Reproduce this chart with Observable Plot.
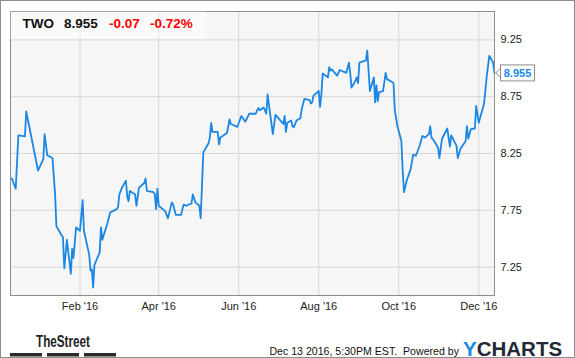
<!DOCTYPE html>
<html>
<head>
<meta charset="utf-8">
<script src="https://cdn.jsdelivr.net/npm/d3@7"></script>
<script src="https://cdn.jsdelivr.net/npm/@observablehq/plot@0.6"></script>
<style>
  html, body { margin: 0; padding: 0; background: #fff; }
  svg { display: block; }
</style>
</head>
<body>
<div id="chart"></div>
<script>
const dates = [
  "2015-12-11","2015-12-14","2015-12-16","2015-12-21","2015-12-22","2015-12-31",
  "2016-01-04","2016-01-05","2016-01-07","2016-01-11","2016-01-13","2016-01-14","2016-01-19","2016-01-20","2016-01-22","2016-01-25","2016-01-26","2016-01-27","2016-01-29",
  "2016-02-01","2016-02-03","2016-02-04","2016-02-08","2016-02-09","2016-02-10","2016-02-11","2016-02-12","2016-02-16","2016-02-17","2016-02-18","2016-02-22","2016-02-24","2016-02-29",
  "2016-03-01","2016-03-02","2016-03-04","2016-03-07","2016-03-08","2016-03-09","2016-03-10","2016-03-14","2016-03-15","2016-03-17","2016-03-21","2016-03-22","2016-03-23","2016-03-28","2016-03-29","2016-03-30","2016-03-31",
  "2016-04-01","2016-04-04","2016-04-06","2016-04-08","2016-04-11","2016-04-12","2016-04-14","2016-04-18","2016-04-20","2016-04-22","2016-04-26","2016-04-27","2016-04-29",
  "2016-05-02","2016-05-03","2016-05-05","2016-05-09","2016-05-10","2016-05-11","2016-05-12","2016-05-16","2016-05-17","2016-05-18","2016-05-23","2016-05-24","2016-05-25","2016-05-26","2016-05-31",
  "2016-06-03","2016-06-06","2016-06-09","2016-06-14","2016-06-15","2016-06-16","2016-06-17","2016-06-20","2016-06-22","2016-06-23","2016-06-27","2016-06-29",
  "2016-07-05","2016-07-06","2016-07-07","2016-07-08","2016-07-11","2016-07-12","2016-07-13","2016-07-15","2016-07-18","2016-07-19","2016-07-21","2016-07-25","2016-07-26","2016-07-27","2016-07-28",
  "2016-08-01","2016-08-02","2016-08-03","2016-08-04","2016-08-08","2016-08-09","2016-08-10","2016-08-11","2016-08-15","2016-08-17","2016-08-22","2016-08-24","2016-08-25","2016-08-26","2016-08-29","2016-08-30","2016-08-31",
  "2016-09-01","2016-09-06","2016-09-07","2016-09-09","2016-09-12","2016-09-13","2016-09-14","2016-09-15","2016-09-16","2016-09-19","2016-09-21","2016-09-22","2016-09-26","2016-09-27","2016-09-28","2016-09-30",
  "2016-10-03","2016-10-04","2016-10-05","2016-10-07","2016-10-10","2016-10-12","2016-10-13","2016-10-14","2016-10-17","2016-10-19","2016-10-21","2016-10-24","2016-10-25","2016-10-26","2016-10-28","2016-10-31",
  "2016-11-01","2016-11-03","2016-11-07","2016-11-09","2016-11-10","2016-11-14","2016-11-15","2016-11-17","2016-11-21","2016-11-22","2016-11-23","2016-11-25","2016-11-28","2016-11-29",
  "2016-12-01","2016-12-05","2016-12-07","2016-12-09","2016-12-12","2016-12-13"
];
const prices = [
  8.03,7.94,8.41,8.40,8.62,8.10,
  8.20,8.42,8.235,8.21,7.89,7.61,7.51,7.24,7.49,7.19,7.41,7.33,7.60,
  7.57,7.84,7.57,7.36,7.22,7.23,7.07,7.27,7.38,7.60,7.49,7.64,7.73,7.76,
  7.78,7.89,7.95,8.01,7.87,7.83,7.92,7.89,7.79,7.95,7.99,8.03,7.92,7.91,7.89,7.76,7.94,
  7.79,7.76,7.74,7.68,7.82,7.80,7.71,7.71,7.80,7.79,7.81,7.89,7.82,
  7.79,7.68,8.26,8.34,8.39,8.52,8.44,8.44,8.33,8.39,8.43,8.485,8.55,8.51,8.485,
  8.58,8.53,8.60,8.60,8.63,8.65,8.63,8.655,8.60,8.77,8.42,8.59,
  8.51,8.58,8.44,8.52,8.54,8.49,8.48,8.54,8.56,8.64,8.73,8.72,8.69,8.70,8.76,
  8.80,8.66,8.77,8.955,8.92,9.01,8.98,8.99,8.935,8.985,8.96,9.05,8.96,8.83,8.89,8.92,8.87,
  9.05,9.07,9.155,8.80,8.92,8.70,8.85,8.71,8.79,8.80,8.96,8.905,8.88,8.87,8.63,8.49,
  8.36,8.10,7.91,8.01,8.11,8.24,8.235,8.23,8.32,8.405,8.39,8.42,8.49,8.39,8.36,8.30,
  8.21,8.38,8.47,8.31,8.41,8.32,8.21,8.29,8.36,8.49,8.38,8.465,8.47,8.67,
  8.52,8.685,8.92,9.11,9.05,8.955
];
const yTicks = [7.25, 7.75, 8.25, 8.75, 9.25];
const xTickDates = ["2016-02-01","2016-04-01","2016-06-01","2016-08-01","2016-10-01","2016-12-01"];
const ticker = "TWO";
const lastPrice = "8.955";
const change = "-0.07";
const changePct = "-0.72%";
const stamp = "Dec 13 2016, 5:30PM EST.  Powered by";

const data = dates.map((d, i) => ({date: new Date(d), price: prices[i]}));
const xTicks = xTickDates.map(d => new Date(d));
const blue = "#1a87e5";
const font = "'Liberation Sans', Arial, sans-serif";

const chart = Plot.plot({
  width: 575,
  height: 358,
  marginLeft: 10,
  marginRight: 81,
  marginTop: 11,
  marginBottom: 63,
  style: {background: "#fff", fontFamily: font, fontSize: "11px", color: "#222"},
  x: {type: "utc", domain: [new Date("2015-12-10"), new Date("2016-12-13")]},
  y: {domain: [7.0, 9.5]},
  marks: [
    Plot.frame({fill: "#f6f6f6", stroke: "none"}),
    Plot.gridY(yTicks, {stroke: "#d7d7d7", strokeOpacity: 1}),
    Plot.gridX(xTicks, {stroke: "#d7d7d7", strokeOpacity: 1}),
    Plot.line(data, {x: "date", y: "price", stroke: blue, strokeWidth: 1.8}),
    Plot.frame({stroke: "#8c8c8c", strokeWidth: 1}),
    Plot.axisY(yTicks, {anchor: "right", tickSize: 0, tickPadding: 6, tickFormat: d => d.toFixed(2), label: null, fill: "#222"}),
    Plot.axisX(xTicks, {anchor: "bottom", tickSize: 0, tickPadding: 7, tickFormat: d3.utcFormat("%b '%y"), label: null, fill: "#222"})
  ]
});

document.getElementById("chart").appendChild(chart);

const svg = d3.select(chart);
const yS = chart.scale("y");
const ly = yS.apply(prices[prices.length - 1]);

// outer border
svg.append("rect").attr("x", 0.5).attr("y", 0.5).attr("width", 574).attr("height", 357)
  .attr("fill", "none").attr("stroke", "#8c8c8c");

// header box
svg.append("rect").attr("x", 10.5).attr("y", 11.5).attr("width", 195).attr("height", 27)
  .attr("fill", "#fff").attr("fill-opacity", 0.45);
const hdr = svg.append("g").attr("font-family", font).attr("font-weight", "bold")
  .attr("font-size", 13.5).attr("text-anchor", "start");
hdr.append("text").attr("x", 22.5).attr("y", 28.3).attr("fill", "#111").text(ticker);
hdr.append("text").attr("x", 64).attr("y", 28.3).attr("fill", "#111").text(lastPrice);
hdr.append("text").attr("x", 109).attr("y", 28.3).attr("fill", "#f00").text(change);
hdr.append("text").attr("x", 150).attr("y", 28.3).attr("fill", "#f00").text(changePct);

// last value flag
svg.append("path").attr("d", `M500,${ly - 4.5} L496,${ly} L500,${ly + 4.5}`)
  .attr("fill", "#fff").attr("stroke", "#8c8c8c");
svg.append("rect").attr("x", 500.5).attr("y", ly - 8).attr("width", 34).attr("height", 16)
  .attr("fill", "#fff").attr("stroke", "#8c8c8c");
svg.append("text").attr("x", 517.5).attr("y", ly + 4).attr("text-anchor", "middle")
  .attr("font-family", font).attr("font-weight", "bold").attr("font-size", 11)
  .attr("fill", blue).text(lastPrice);

// footer: TheStreet logo
svg.append("text").attr("x", 36).attr("y", 347).attr("text-anchor", "start")
  .attr("font-family", font).attr("font-weight", "bold")
  .attr("font-size", 17).attr("textLength", 54).attr("lengthAdjust", "spacingAndGlyphs")
  .attr("fill", "#222").text("TheStreet");
[[10, 42], [47, 79], [84, 116]].forEach(([a, b]) => {
  svg.append("rect").attr("x", a).attr("y", 353).attr("width", b - a).attr("height", 3.5).attr("fill", "#2a2a2a");
});

// stamp
svg.append("text").attr("x", 459).attr("y", 354.5).attr("text-anchor", "end")
  .attr("font-family", font).attr("font-size", 10.6).attr("fill", "#111")
  .style("white-space", "pre").text(stamp);

// YCHARTS logo
const yc = svg.append("text").attr("x", 463).attr("y", 355.5).attr("text-anchor", "start")
  .attr("font-family", font).attr("font-weight", "bold").attr("font-size", 20.5);
yc.append("tspan").attr("fill", blue).text("Y");
yc.append("tspan").attr("fill", "#1f2a36").text("CHARTS");
</script>
</body>
</html>
